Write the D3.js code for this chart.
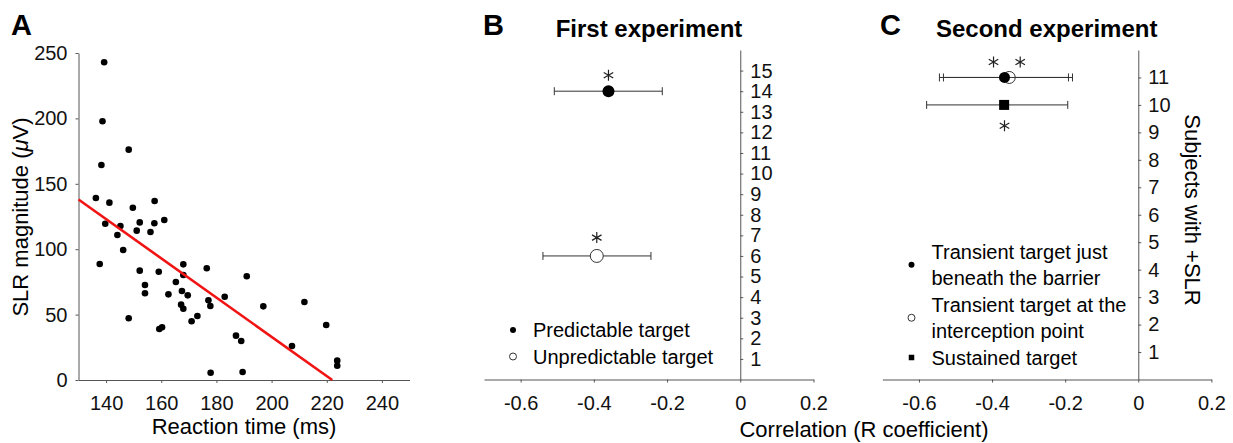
<!DOCTYPE html>
<html>
<head>
<meta charset="utf-8">
<script src="https://cdn.jsdelivr.net/npm/d3@7"></script>
<style>
  body { margin: 0; background: #fff; }
  svg { font-family: Arial, "Liberation Sans", sans-serif; }
</style>
</head>
<body>
<svg id="drawing_region" width="1233" height="443"></svg>
<script>
// Panel A : reaction time vs SLR magnitude
const reactionTime = [139.3, 138.7, 138.3, 148.2, 136.3, 141.2, 149.7, 157.6, 161.1, 139.7,
    152.2, 157.5, 145.2, 151.1, 156.1, 144.1, 146.2, 137.7, 152.2, 159.1,
    168.0, 168.0, 165.3, 176.5, 191.0, 154.1, 154.1, 162.6, 167.5, 169.6,
    167.2, 168.0, 177.1, 177.8, 183.0, 197.0, 211.9, 148.2, 173.1, 171.0,
    159.3, 160.3, 187.1, 189.0, 219.8, 207.4, 223.8, 223.8, 177.9, 189.5];
const slrMagnitude = [242.9, 197.8, 164.4, 176.1, 139.1, 135.6, 131.7, 136.9, 122.3, 119.5,
    120.5, 119.8, 117.7, 114.2, 113.1, 110.9, 99.4, 88.7, 83.6, 82.8,
    88.4, 80.3, 74.9, 85.4, 79.3, 72.6, 66.3, 65.5, 68.0, 64.7,
    57.6, 54.5, 60.9, 56.6, 63.7, 56.3, 59.6, 47.2, 48.9, 44.9,
    39.0, 40.3, 33.9, 29.8, 42.0, 26.0, 14.8, 10.9, 5.6, 6.1];
const fitTime = [130, 222];
const fitSlr = [138, 0];
const timeTicks = [140, 160, 180, 200, 220, 240];
const slrTicks = [0, 50, 100, 150, 200, 250];

// Panel B : first experiment
const firstLabels = [["Predictable target"], ["Unpredictable target"]];
const firstR = [-0.360, -0.392];
const firstLo = [-0.508, -0.539];
const firstHi = [-0.213, -0.244];
const firstSubjects = [14, 6];
const firstStarR = [-0.360, -0.392];
const firstStarN = [14.77, 6.89];
const firstTicks = [1, 2, 3, 4, 5, 6, 7, 8, 9, 10, 11, 12, 13, 14, 15];

// Panel C : second experiment
const secondLabels = [["Transient target just", "beneath the barrier"],
    ["Transient target at the", "interception point"],
    ["Sustained target"]];
const secondR = [-0.366, -0.353, -0.367];
const secondLo = [-0.544, -0.533, -0.579];
const secondHi = [-0.191, -0.180, -0.193];
const secondSubjects = [11, 11, 10];
const secondStarR = [-0.396, -0.323, -0.366];
const secondStarN = [11.56, 11.56, 9.24];
const secondTicks = [1, 2, 3, 4, 5, 6, 7, 8, 9, 10, 11];

const corrTicks = [-0.6, -0.4, -0.2, 0, 0.2];

const svg = d3.select('#drawing_region');
const axisColor = '#555';

function styleAxis(g, size) {
    g.attr('font-family', null).attr('font-size', null);
    g.select('.domain').attr('stroke', axisColor);
    g.selectAll('.tick line').attr('stroke', axisColor);
    g.selectAll('.tick text').attr('fill', '#111').attr('font-size', size);
}

function panelLetter(txt, x) {
    svg.append('text')
        .attr('x', x).attr('y', 35)
        .attr('font-size', 29).attr('font-weight', 'bold')
        .text(txt);
}

// ---- A ----
function drawScatter() {
    const cfg = {left: 78.5, right: 409.5, top: 53, bottom: 380};
    const x = d3.scaleLinear().domain([130, 250]).range([cfg.left, cfg.right]);
    const y = d3.scaleLinear().domain([0, 250]).range([cfg.bottom, cfg.top]);
    const g = svg.append('g');

    g.append('g')
        .attr('transform', `translate(0,${cfg.bottom})`)
        .call(d3.axisBottom(x).tickValues(timeTicks).tickSize(3).tickSizeOuter(0).tickPadding(13))
        .call(styleAxis, 20);
    g.append('g')
        .attr('transform', `translate(${cfg.left},0)`)
        .call(d3.axisLeft(y).tickValues(slrTicks).tickSize(3).tickSizeOuter(0).tickPadding(8))
        .call(styleAxis, 20);

    const pts = reactionTime.map((t, i) => ({t: t, v: slrMagnitude[i]}));
    g.selectAll('.dot')
        .data(pts)
        .enter()
        .append('circle')
        .attr('class', 'dot')
        .attr('cx', d => x(d.t))
        .attr('cy', d => y(d.v))
        .attr('r', 3.3)
        .attr('fill', '#000');

    const fit = fitTime.map((t, i) => [t, fitSlr[i]]);
    g.append('path')
        .datum(fit)
        .attr('d', d3.line().x(d => x(d[0])).y(d => y(d[1])))
        .attr('stroke', '#f01414')
        .attr('stroke-width', 2.6)
        .attr('fill', 'none');

    g.append('text')
        .attr('x', (cfg.left + cfg.right) / 2).attr('y', 434)
        .attr('text-anchor', 'middle').attr('font-size', 22)
        .text('Reaction time (ms)');

    const yl = g.append('text')
        .attr('transform', `translate(28,217) rotate(-90)`)
        .attr('text-anchor', 'middle').attr('font-size', 22);
    yl.append('tspan').text('SLR magnitude (');
    yl.append('tspan').attr('font-style', 'italic').text('\u03bc');
    yl.append('tspan').text('V)');

    panelLetter('A', 11);
}

// ---- B / C ----
function drawCorr(cfg, d) {
    const x = d3.scaleLinear().domain([-0.7, 0.2]).range([cfg.left, cfg.right]);
    const y = d3.scaleLinear().domain([0, cfg.yMax]).range([cfg.bottom, cfg.top]);
    const g = svg.append('g');

    g.append('g')
        .attr('transform', `translate(0,${cfg.bottom})`)
        .call(d3.axisBottom(x).tickValues(corrTicks).tickSize(3).tickSizeOuter(0).tickPadding(13)
            .tickFormat(v => String(+v.toFixed(1))))
        .call(styleAxis, 20);
    g.append('g')
        .attr('transform', `translate(${x(0)},0)`)
        .call(d3.axisRight(y).tickValues(d.ticks).tickSize(3).tickSizeOuter(0).tickPadding(7))
        .call(styleAxis, 20);

    const rows = d.r.map((r, i) => ({r: r, lo: d.lo[i], hi: d.hi[i], n: d.n[i], kind: d.kinds[i], i: i}));
    // open markers first so filled ones sit on top
    rows.sort((a, b) => (a.kind === 'open' ? 0 : 1) - (b.kind === 'open' ? 0 : 1));

    const grp = g.selectAll('.est')
        .data(rows)
        .enter()
        .append('g')
        .attr('class', 'est');

    grp.append('line')
        .attr('x1', e => x(e.lo)).attr('x2', e => x(e.hi))
        .attr('y1', e => y(e.n)).attr('y2', e => y(e.n))
        .attr('stroke', '#333').attr('stroke-width', 1);
    ['lo', 'hi'].forEach(k => {
        grp.append('line')
            .attr('x1', e => x(e[k])).attr('x2', e => x(e[k]))
            .attr('y1', e => y(e.n) - 4).attr('y2', e => y(e.n) + 4)
            .attr('stroke', '#333').attr('stroke-width', 1);
    });
    grp.each(function(e) {
        drawMarker(d3.select(this), e.kind, x(e.r), y(e.n), cfg.markerR);
    });

    const star = d3.symbol().type(d3.symbolAsterisk).size(85);
    g.selectAll('.star')
        .data(d.starR.map((r, i) => [r, d.starN[i]]))
        .enter()
        .append('path')
        .attr('class', 'star')
        .attr('transform', s => `translate(${x(s[0])},${y(s[1])})`)
        .attr('d', star)
        .attr('fill', 'none')
        .attr('stroke', '#222')
        .attr('stroke-width', 1.2);

    // legend
    let line = 0;
    d.labels.forEach((lab, i) => {
        const ys = lab.map((t, j) => cfg.legY + (line + j) * 26.5);
        drawMarker(g, d.kinds[i], cfg.legX, d3.mean(ys), 3, true);
        lab.forEach((t, j) => {
            g.append('text')
                .attr('x', cfg.legX + 20).attr('y', ys[j])
                .attr('dy', '0.35em')
                .attr('font-size', 20)
                .text(t);
        });
        line += lab.length;
    });

    g.append('text')
        .attr('x', cfg.titleX).attr('y', 37)
        .attr('text-anchor', 'middle')
        .attr('font-size', 24).attr('font-weight', 'bold')
        .text(cfg.title);

    panelLetter(cfg.letter, cfg.letterX);
}

function drawMarker(sel, kind, cx, cy, r, small) {
    if (kind === 'square') {
        const s = small ? 5.5 : 10;
        sel.append('rect')
            .attr('x', cx - s / 2).attr('y', cy - s / 2)
            .attr('width', s).attr('height', s)
            .attr('fill', '#000');
    } else if (kind === 'open') {
        sel.append('circle')
            .attr('cx', cx).attr('cy', cy).attr('r', small ? 3.5 : r + 0.5)
            .attr('fill', '#fff').attr('stroke', '#333').attr('stroke-width', 1);
    } else {
        sel.append('circle')
            .attr('cx', cx).attr('cy', cy).attr('r', r)
            .attr('fill', '#000');
    }
}

drawScatter();

drawCorr({left: 484, right: 813.5, top: 50, bottom: 379.5, yMax: 16, markerR: 6,
        legX: 513, legY: 330, title: 'First experiment', titleX: 649, letter: 'B', letterX: 483},
    {r: firstR, lo: firstLo, hi: firstHi, n: firstSubjects, kinds: ['filled', 'open'],
        starR: firstStarR, starN: firstStarN, ticks: firstTicks, labels: firstLabels});

drawCorr({left: 882.4, right: 1211.4, top: 50, bottom: 379.5, yMax: 12, markerR: 5.5,
        legX: 911.5, legY: 251.5, title: 'Second experiment', titleX: 1046.7, letter: 'C', letterX: 880},
    {r: secondR, lo: secondLo, hi: secondHi, n: secondSubjects, kinds: ['filled', 'open', 'square'],
        starR: secondStarR, starN: secondStarN, ticks: secondTicks, labels: secondLabels});

svg.append('text')
    .attr('x', 864).attr('y', 437)
    .attr('text-anchor', 'middle').attr('font-size', 22)
    .text('Correlation (R coefficient)');

svg.append('text')
    .attr('transform', 'translate(1185,210) rotate(90)')
    .attr('text-anchor', 'middle').attr('font-size', 22)
    .text('Subjects with +SLR');
</script>
</body>
</html>
